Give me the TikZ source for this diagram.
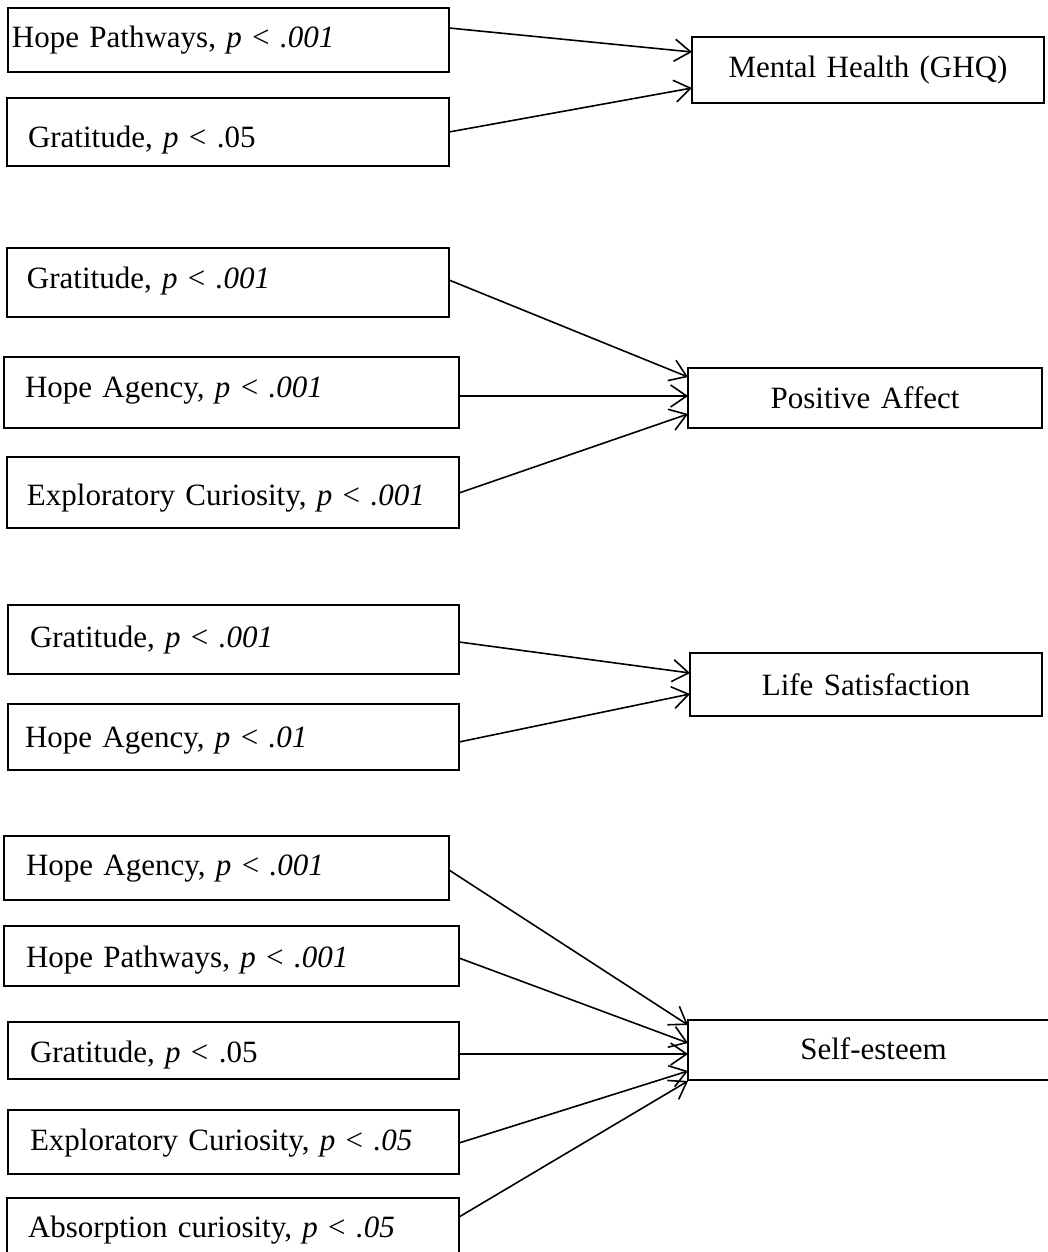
\documentclass[tikz,border=0pt]{standalone}
\usepackage{fontspec}
\setmainfont{Liberation Serif}
\usetikzlibrary{arrows.meta}
\newcommand\diagfont{\fontsize{31pt}{37pt}\selectfont}
\begin{document}
\begin{tikzpicture}[x=1pt,y=-1pt,
  box/.style={draw, line width=1.7pt, outer sep=0pt, anchor=north west, inner ysep=0pt, font=\diagfont},
  lbox/.style={box, align=left},
  rbox/.style={box, align=center},
  arr/.style={line width=1.6pt, -{Straight Barb[length=16pt,width=22pt,line width=1.6pt]}}]
\useasboundingbox (0,0) rectangle (1048,1252);
% left boxes: inner xsep s, text width = W - 2s
\node[lbox, inner xsep=4pt,  text width=433pt, text height=40pt, text depth=24pt] (hp1) at (8,8)    {Hope Pathways, \textit{p} < \textit{.001}};
\node[lbox, inner xsep=21pt, text width=400pt, text height=50pt, text depth=18pt] (gr1) at (7,98)   {Gratitude, \textit{p} < .05};
\node[lbox, inner xsep=20pt, text width=402pt, text height=40pt, text depth=29pt] (gr2) at (7,248)  {Gratitude, \textit{p} < \textit{.001}};
\node[lbox, inner xsep=21pt, text width=413pt, text height=40pt, text depth=31pt] (ha2) at (4,357)  {Hope Agency, \textit{p} < \textit{.001}};
\node[lbox, inner xsep=20pt, text width=412pt, text height=48pt, text depth=23pt] (ec2) at (7,457)  {Exploratory Curiosity, \textit{p} < \textit{.001}};
\node[lbox, inner xsep=22pt, text width=407pt, text height=42pt, text depth=27pt] (gr3) at (8,605)  {Gratitude, \textit{p} < \textit{.001}};
\node[lbox, inner xsep=17pt, text width=417pt, text height=43pt, text depth=23pt] (ha3) at (8,704)  {Hope Agency, \textit{p} < \textit{.01}};
\node[lbox, inner xsep=22pt, text width=401pt, text height=39pt, text depth=25pt] (ha4) at (4,836)  {Hope Agency, \textit{p} < \textit{.001}};
\node[lbox, inner xsep=22pt, text width=411pt, text height=41pt, text depth=19pt] (hp4) at (4,926)  {Hope Pathways, \textit{p} < \textit{.001}};
\node[lbox, inner xsep=22pt, text width=407pt, text height=40pt, text depth=17pt] (gr4) at (8,1022) {Gratitude, \textit{p} < .05};
\node[lbox, inner xsep=22pt, text width=407pt, text height=40pt, text depth=24pt] (ec4) at (8,1110) {Exploratory Curiosity, \textit{p} < \textit{.05}};
\node[lbox, inner xsep=21pt, text width=410pt, text height=39pt, text depth=18pt] (ab4) at (7,1198) {Absorption curiosity, \textit{p} < \textit{.05}};
% right boxes
\node[rbox, inner xsep=4pt, text width=344pt, text height=41pt, text depth=25pt] (mh) at (692,37)   {Mental Health (GHQ)};
\node[rbox, inner xsep=4pt, text width=346pt, text height=40pt, text depth=20pt] (pa) at (688,368)  {Positive Affect};
\node[rbox, inner xsep=4pt, text width=344pt, text height=42pt, text depth=21pt] (ls) at (690,653)  {Life Satisfaction};
\node[rbox, inner xsep=4pt, text width=363pt, text height=39pt, text depth=21pt] (se) at (688,1020) {Self-esteem};
% connectors
\draw[arr] ([yshift=12pt]hp1.east) -- ([yshift=18pt]mh.west);
\draw[arr] (gr1.east) -- ([yshift=-18pt]mh.west);
\draw[arr] ([yshift=2.5pt]gr2.east) -- ([yshift=21pt]pa.west);
\draw[arr] ([yshift=-3.5pt]ha2.east) -- ([yshift=2pt]pa.west);
\draw[arr] ([yshift=-0.5pt]ec2.east) -- ([yshift=-16pt]pa.west);
\draw[arr] ([yshift=-2.5pt]gr3.east) -- ([yshift=11.5pt]ls.west);
\draw[arr] ([yshift=-5pt]ha3.east) -- ([yshift=-9.5pt]ls.west);
\draw[arr] ([yshift=-2pt]ha4.east) -- ([yshift=25pt]se.west);
\draw[arr] ([yshift=-2pt]hp4.east) -- ([yshift=7pt]se.west);
\draw[arr] ([yshift=-3.5pt]gr4.east) -- ([yshift=-4pt]se.west);
\draw[arr] ([yshift=-1pt]ec4.east) -- ([yshift=-21pt]se.west);
\draw[arr] ([yshift=9.5pt]ab4.east) -- ([yshift=-31pt]se.west);
\end{tikzpicture}
\end{document}
